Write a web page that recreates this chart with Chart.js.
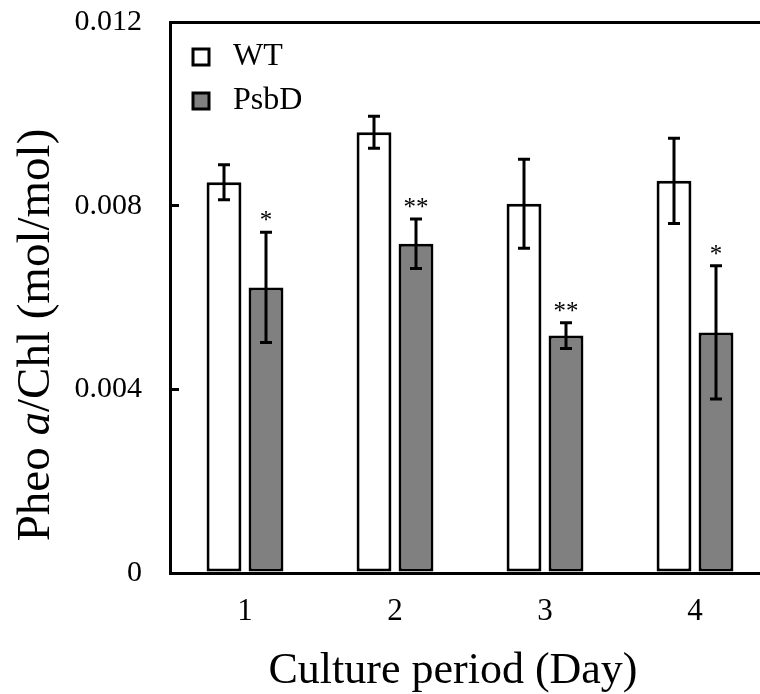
<!DOCTYPE html>
<html>
<head>
<meta charset="utf-8">
<script src="https://cdn.jsdelivr.net/npm/chart.js@4.4.1/dist/chart.umd.min.js"></script>
<style>
html, body { margin: 0; padding: 0; background: #fff; }
#wrap { width: 760px; height: 694px; overflow: hidden; position: relative; }
canvas { display: block; }
</style>
</head>
<body>
<div id="wrap"><canvas id="pheoChart" width="780" height="694"></canvas></div>
<script>
// values
const days = ['1', '2', '3', '4'];
const wtValues = [0.00851, 0.00960, 0.00804, 0.00854];
const wtErrors = [0.00038, 0.00035, 0.00097, 0.00093];
const psbdValues = [0.00622, 0.00717, 0.00517, 0.00524];
const psbdErrors = [0.00120, 0.00054, 0.00028, 0.00145];
const psbdStars = ['*', '**', '**', '*'];
const yTicks = [0, 0.004, 0.008, 0.012];

const xTitle = 'Culture period (Day)';
const serif = '"Liberation Serif", "Times New Roman", serif';

const errorBars = {
    id: 'errorBars',
    afterDatasetsDraw(chart) {
        const ctx = chart.ctx;
        const y = chart.scales.y;
        chart.data.datasets.forEach((ds, i) => {
            const meta = chart.getDatasetMeta(i);
            meta.data.forEach((bar, j) => {
                const v = ds.data[j], e = ds.errors[j];
                const top = y.getPixelForValue(v + e);
                const bot = y.getPixelForValue(v - e);
                ctx.save();
                ctx.strokeStyle = '#000';
                ctx.lineWidth = 3;
                ctx.beginPath();
                ctx.moveTo(bar.x, top); ctx.lineTo(bar.x, bot);
                ctx.moveTo(bar.x - 6, top); ctx.lineTo(bar.x + 6, top);
                ctx.moveTo(bar.x - 6, bot); ctx.lineTo(bar.x + 6, bot);
                ctx.stroke();
                if (ds.stars) {
                    ctx.fillStyle = '#000';
                    ctx.font = '25px ' + serif;
                    ctx.textAlign = 'center';
                    ctx.textBaseline = 'alphabetic';
                    ctx.fillText(ds.stars[j], bar.x, top - 4);
                }
                ctx.restore();
            });
        });
    }
};

// legend sits inside the frame, top left
const innerLegend = {
    id: 'innerLegend',
    afterDraw(chart) {
        const ctx = chart.ctx;
        const area = chart.chartArea;
        ctx.save();
        chart.data.datasets.forEach((ds, i) => {
            const cy = area.top + 35 + i * 44;
            ctx.fillStyle = ds.backgroundColor;
            ctx.strokeStyle = '#000';
            ctx.lineWidth = 3;
            ctx.fillRect(area.left + 23, cy - 8, 16, 16);
            ctx.strokeRect(area.left + 23, cy - 8, 16, 16);
            ctx.fillStyle = '#000';
            ctx.font = '32px ' + serif;
            ctx.textAlign = 'left';
            ctx.textBaseline = 'middle';
            ctx.fillText(ds.label, area.left + 63, cy);
        });
        ctx.restore();
    }
};

// axis titles (y title has an italic "a", so drawn by hand)
const axisTitles = {
    id: 'axisTitles',
    afterDraw(chart) {
        const ctx = chart.ctx;
        ctx.save();
        ctx.fillStyle = '#000';
        ctx.font = '44px ' + serif;
        ctx.textAlign = 'center';
        ctx.textBaseline = 'alphabetic';
        ctx.fillText(xTitle, 453, 683);

        const parts = [['Pheo ', ''], ['a', 'italic '], ['/Chl (mol/mol)', '']];
        ctx.translate(49, 335);
        ctx.rotate(-Math.PI / 2);
        ctx.textAlign = 'left';
        let total = 0;
        parts.forEach(p => { ctx.font = p[1] + '47px ' + serif; total += ctx.measureText(p[0]).width; });
        let x = -total / 2;
        parts.forEach(p => {
            ctx.font = p[1] + '47px ' + serif;
            ctx.fillText(p[0], x, 0);
            x += ctx.measureText(p[0]).width;
        });
        ctx.restore();
    }
};

const ctx = document.getElementById('pheoChart').getContext('2d');

new Chart(ctx, {
    type: 'bar',
    data: {
        labels: days,
        datasets: [
            {
                label: 'WT',
                data: wtValues,
                errors: wtErrors,
                backgroundColor: '#ffffff',
                borderColor: '#000000',
                borderWidth: 3,
                borderSkipped: false
            },
            {
                label: 'PsbD',
                data: psbdValues,
                errors: psbdErrors,
                stars: psbdStars,
                backgroundColor: '#808080',
                borderColor: '#000000',
                borderWidth: 3,
                borderSkipped: false
            }
        ]
    },
    options: {
        responsive: false,
        animation: false,
        devicePixelRatio: 1,
        layout: { padding: { left: 0, right: 10, top: 0, bottom: 0 } },
        datasets: {
            bar: { barPercentage: 0.83, categoryPercentage: 0.56 }
        },
        plugins: {
            tooltip: { enabled: false },
            legend: { display: false }
        },
        scales: {
            x: {
                position: 'bottom',
                grid: { display: false, drawTicks: false },
                border: { display: true, color: '#000', width: 3 },
                ticks: { color: '#000', font: { family: serif, size: 31 }, padding: 20 },
                afterFit: s => { s.height = 121; s.paddingLeft = 0; s.paddingRight = 0; }
            },
            xTop: {
                type: 'category',
                position: 'top',
                grid: { display: false, drawTicks: false },
                border: { display: true, color: '#000', width: 3 },
                ticks: { display: false },
                afterFit: s => { s.height = 22; s.paddingLeft = 0; s.paddingRight = 0; }
            },
            y: {
                min: 0,
                max: 0.012,
                grid: { drawOnChartArea: false, drawTicks: true, tickLength: -9, color: '#000', lineWidth: 3 },
                border: { display: true, color: '#000', width: 3 },
                afterBuildTicks: s => { s.ticks = yTicks.map(v => ({ value: v })); },
                ticks: {
                    color: '#000',
                    font: { family: serif, size: 30 },
                    padding: 37,
                    callback: v => v === 0 ? '0' : v.toFixed(3)
                },
                afterFit: s => { s.width = 170; s.paddingTop = 0; s.paddingBottom = 0; }
            }
        }
    },
    plugins: [errorBars, innerLegend, axisTitles]
});
</script>
</body>
</html>
